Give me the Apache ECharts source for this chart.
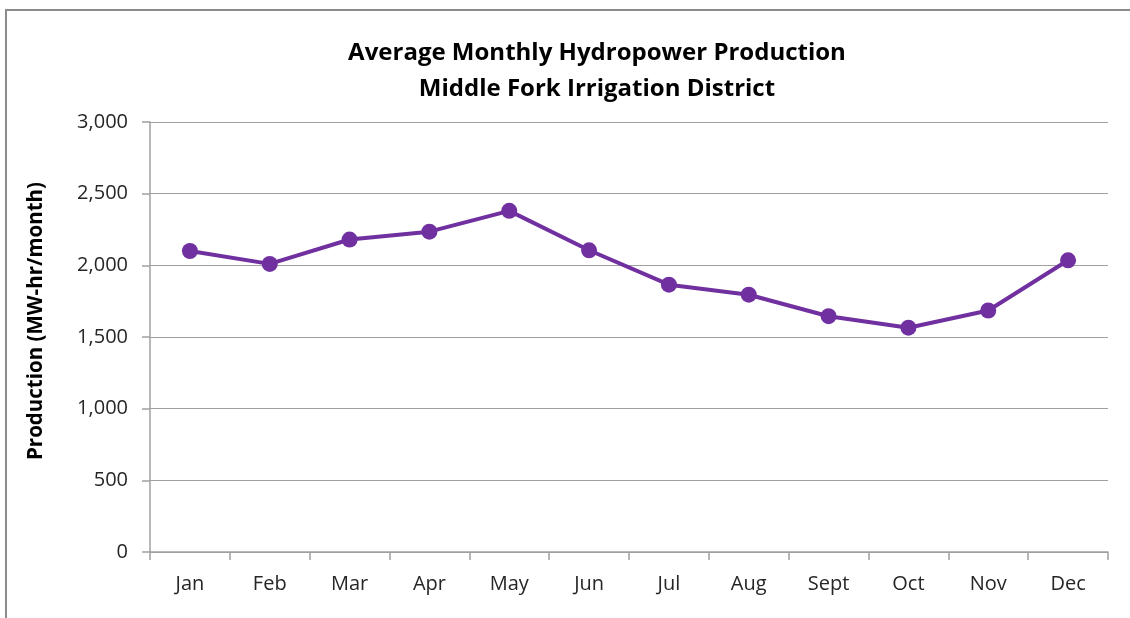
<!DOCTYPE html>
<html>
<head>
<meta charset="utf-8">
<style>
  html, body { margin: 0; padding: 0; background: #fff; }
  #main { width: 1130px; height: 618px; }
</style>
<script src="https://cdn.jsdelivr.net/npm/echarts@6/dist/echarts.min.js"></script>
</head>
<body>
<div id="main"></div>
<script>
const months = ["Jan", "Feb", "Mar", "Apr", "May", "Jun", "Jul", "Aug", "Sept", "Oct", "Nov", "Dec"];
const production = [2100, 2010, 2180, 2235, 2380, 2105, 1865, 1795, 1645, 1565, 1685, 2035];
const yTicks = [0, 500, 1000, 1500, 2000, 2500, 3000];

const font = "'Open Sans', 'Liberation Sans', sans-serif";

const chart = echarts.init(document.getElementById("main"));
chart.setOption({
  animation: false,
  backgroundColor: "#fff",
  title: {
    text: "Average Monthly Hydropower Production\nMiddle Fork Irrigation District",
    left: 592,
    top: 30,
    textAlign: "center",
    textStyle: {
      fontFamily: font,
      fontSize: 24,
      fontWeight: "bold",
      color: "#000",
      lineHeight: 36
    }
  },
  graphic: [
    {
      type: "rect",
      shape: { x: 6, y: 10, width: 1140, height: 630 },
      style: { fill: "none", stroke: "#8c8c8c", lineWidth: 2 }
    }
  ],
  grid: {
    left: 150,
    right: 22,
    top: 122,
    bottom: 66
  },
  xAxis: {
    type: "category",
    data: months,
    boundaryGap: true,
    axisLine: { lineStyle: { color: "#a0a0a0", width: 1.5 } },
    axisTick: { show: true, length: 8, lineStyle: { color: "#a0a0a0", width: 1.5 } },
    axisLabel: { fontFamily: font, fontSize: 20, color: "#262626", margin: 22 }
  },
  yAxis: {
    type: "value",
    min: yTicks[0],
    max: yTicks[yTicks.length - 1],
    interval: 500,
    name: "Production (MW-hr/month)",
    nameLocation: "middle",
    nameGap: 103,
    nameTextStyle: {
      fontFamily: font,
      fontSize: 20.5,
      fontWeight: "bold",
      color: "#000",
      padding: [0, 0, 0, 32]
    },
    axisLine: { show: true, lineStyle: { color: "#a0a0a0", width: 1.5 } },
    axisTick: { show: true, length: 8, lineStyle: { color: "#a0a0a0", width: 1.5 } },
    splitLine: { show: true, lineStyle: { color: "#a0a0a0", width: 1.2 } },
    axisLabel: {
      fontFamily: font,
      fontSize: 20,
      color: "#262626",
      margin: 22,
      formatter: v => v.toLocaleString("en-US")
    }
  },
  series: [
    {
      type: "line",
      data: production,
      symbol: "circle",
      symbolSize: 16,
      lineStyle: { color: "#7030a0", width: 4 },
      itemStyle: { color: "#7030a0" }
    }
  ]
});
</script>
</body>
</html>
